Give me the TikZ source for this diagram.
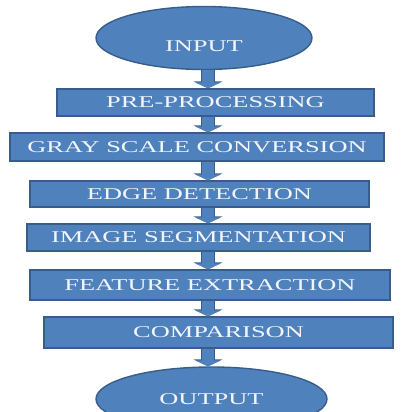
\documentclass[tikz,border=0pt]{standalone}
\usepackage{fontspec}
\setmainfont[FakeStretch=1.6]{Liberation Serif}
\usetikzlibrary{shapes.geometric,arrows.meta}
\definecolor{boxblue}{HTML}{4F81BD}
\definecolor{edgeblue}{HTML}{385D8A}
\definecolor{txtwhite}{HTML}{F2F5FB}
\begin{document}
\begin{tikzpicture}[x=1pt,y=-1pt,
    stage/.style={draw=edgeblue,line width=1.4pt,fill=boxblue,inner sep=0pt,text=txtwhite,font=\fontsize{16.5}{18}\selectfont},
    oval/.style={stage,ellipse},
    flow/.style={boxblue,line width=12pt,-{Triangle[width=26pt,length=6pt]},
        preaction={draw=edgeblue,line width=14.5pt,-{Triangle[width=29pt,length=7pt]}}}]
    \useasboundingbox (0,0) rectangle (401,412);
    \node[oval,minimum width=216pt,minimum height=63pt,text height=27pt,text depth=0pt] (in) at (204,38){INPUT};
    \node[stage,minimum width=317pt,minimum height=27pt] (pre) at (215.5,102.5){PRE-PROCESSING};
    \node[stage,minimum width=374pt,minimum height=28pt] (gray) at (197,147){GRAY SCALE CONVERSION};
    \node[stage,minimum width=339pt,minimum height=26pt] (edge) at (199.5,194){EDGE DETECTION};
    \node[stage,minimum width=343pt,minimum height=27pt] (seg) at (198.5,237.5){IMAGE SEGMENTATION};
    \node[stage,minimum width=360pt,minimum height=30pt] (feat) at (210,285){FEATURE EXTRACTION};
    \node[stage,minimum width=349pt,minimum height=31pt] (comp) at (218.5,332.5){COMPARISON};
    \node[oval,minimum width=231pt,minimum height=64pt] (out) at (211.5,399){OUTPUT};
    \coordinate (ax) at (208,0);
    \draw[flow] (in.south -| ax) -- (pre.north -| ax);
    \draw[flow] (pre.south -| ax) -- (gray.north -| ax);
    \draw[flow] (gray.south -| ax) -- (edge.north -| ax);
    \draw[flow] (edge.south -| ax) -- (seg.north -| ax);
    \draw[flow] (seg.south -| ax) -- (feat.north -| ax);
    \draw[flow] (feat.south -| ax) -- (comp.north -| ax);
    \draw[flow] (comp.south -| ax) -- (out.north -| ax);
\end{tikzpicture}
\end{document}
